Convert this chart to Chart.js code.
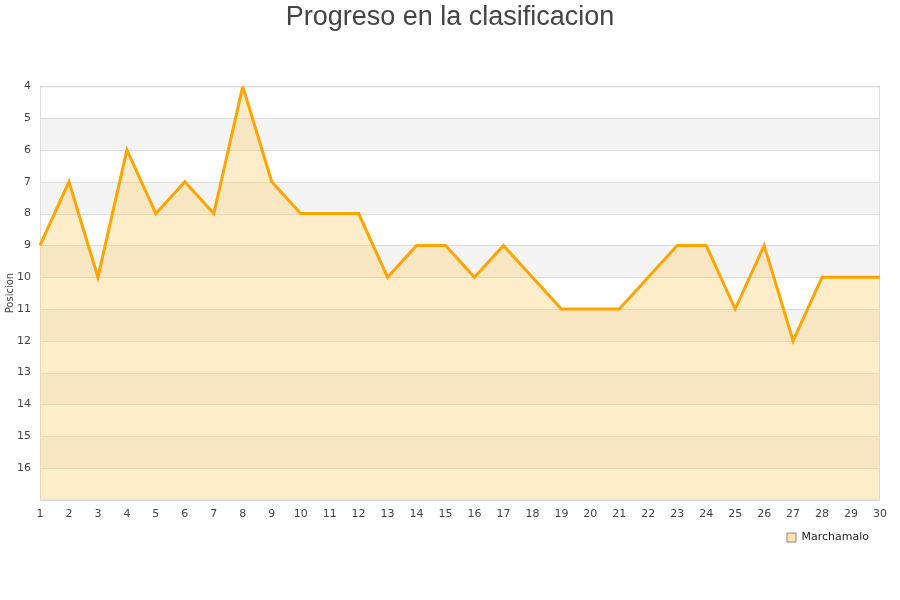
<!DOCTYPE html>
<html>
<head>
<meta charset="utf-8">
<script src="https://cdn.jsdelivr.net/npm/chart.js@4/dist/chart.umd.min.js"></script>
<style>
  html, body { margin: 0; padding: 0; background: #fff; }
  #wrap { width: 900px; height: 600px; }
</style>
</head>
<body>
<div id="wrap"><canvas id="chart" width="900" height="600"></canvas></div>
<script>
// jornadas y posiciones
const jornadas = [1,2,3,4,5,6,7,8,9,10,11,12,13,14,15,16,17,18,19,20,21,22,23,24,25,26,27,28,29,30];
const posiciones = [9,7,10,6,8,7,8,4,7,8,8,8,10,9,9,10,9,10,11,11,11,10,9,9,11,9,12,10,10,10];
const yMin = 4;
const yMax = 17;
const equipo = 'Marchamalo';

const fillColor = 'rgba(255, 200, 100, 0.35)';
const lineColor = '#FFA500';

// alternate grey bands behind the plot
const bandsPlugin = {
  id: 'bands',
  beforeDatasetsDraw(chart) {
    const {ctx, chartArea: a, scales: {y}} = chart;
    ctx.save();
    ctx.fillStyle = '#f4f4f4';
    for (let v = yMin + 1; v < yMax; v += 2) {
      const y1 = y.getPixelForValue(v);
      const y2 = y.getPixelForValue(v + 1);
      ctx.fillRect(a.left, y1, a.right - a.left, y2 - y1);
    }
    // horizontal grid lines on top of bands
    ctx.strokeStyle = '#dddddd';
    ctx.lineWidth = 1;
    for (let v = yMin; v <= yMax; v++) {
      const py = Math.round(y.getPixelForValue(v)) + 0.5;
      ctx.beginPath();
      ctx.moveTo(a.left, py);
      ctx.lineTo(a.right, py);
      ctx.stroke();
    }
    ctx.strokeRect(a.left + 0.5, a.top + 0.5, a.right - a.left - 1, a.bottom - a.top - 1);
    ctx.restore();
  }
};

const ctx = document.getElementById('chart').getContext('2d');
new Chart(ctx, {
  type: 'line',
  data: {
    labels: jornadas,
    datasets: [{
      label: equipo,
      data: posiciones,
      borderColor: lineColor,
      backgroundColor: fillColor,
      borderWidth: 3,
      pointRadius: 0,
      tension: 0,
      fill: 'start'
    }]
  },
  options: {
    responsive: false,
    animation: false,
    layout: { padding: { left: 10, right: 10, top: 0, bottom: 47 } },
    plugins: {
      title: {
        display: true,
        text: 'Progreso en la clasificacion',
        color: '#444',
        font: { family: 'Liberation Sans', size: 27, weight: 'normal' },
        padding: { top: 1, bottom: 53 }
      },
      legend: {
        position: 'bottom',
        align: 'end',
        fullSize: false,
        labels: {
          boxWidth: 9,
          boxHeight: 9,
          padding: 11,
          color: '#222',
          font: { family: 'DejaVu Sans', size: 11 },
          generateLabels(chart) {
            return chart.data.datasets.map((ds, i) => ({
              text: ds.label,
              fillStyle: 'rgba(255, 220, 160, 0.8)',
              strokeStyle: '#888',
              lineWidth: 1,
              fontColor: '#222',
              datasetIndex: i
            }));
          }
        }
      },
      tooltip: { enabled: false }
    },
    scales: {
      x: {
        offset: false,
        grid: { display: false },
        border: { display: false },
        ticks: {
          autoSkip: false,
          maxRotation: 0,
          color: '#444',
          font: { family: 'DejaVu Sans', size: 11 },
          padding: 0
        }
      },
      y: {
        reverse: true,
        min: yMin,
        max: yMax,
        grid: { display: false },
        border: { display: false },
        afterFit(scale) { scale.width = 30; },
        ticks: {
          stepSize: 1,
          color: '#444',
          font: { family: 'DejaVu Sans', size: 11 },
          padding: 1,
          callback: v => v === yMax ? '' : v
        },
        title: {
          display: true,
          text: 'Posicion',
          color: '#444',
          font: { family: 'DejaVu Sans', size: 10 },
          padding: { top: -6, bottom: 0 }
        }
      },
      // empty right axis, only keeps the plot edge at the same place
      y2: {
        position: 'right',
        grid: { display: false },
        border: { display: false },
        ticks: { display: false },
        afterFit(scale) { scale.width = 10; }
      }
    }
  },
  plugins: [bandsPlugin]
});
</script>
</body>
</html>
